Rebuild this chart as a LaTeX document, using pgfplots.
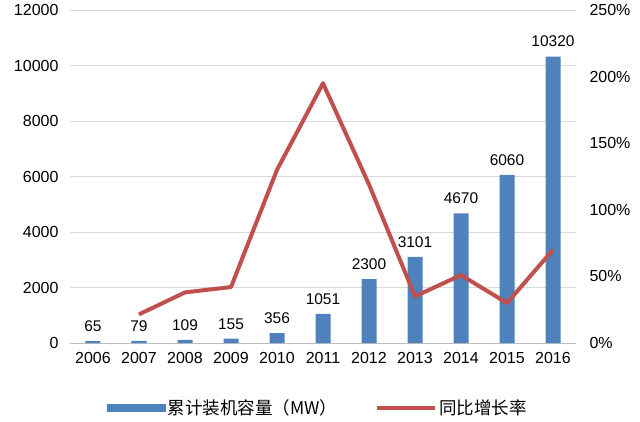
\documentclass[border=0pt]{standalone}
\usepackage{pgfplots}
\pgfplotsset{compat=1.18}
\usepackage{fontspec}
\setmainfont{Liberation Sans}
\newfontfamily\cjk{Noto Sans CJK SC}
\definecolor{barblue}{RGB}{79,129,189}
\definecolor{linered}{RGB}{192,80,77}
\begin{document}
\begin{tikzpicture}[x=1pt,y=1pt]
\path[use as bounding box] (0,0) rectangle (640,421);
\pgfplotsset{
  base/.style={
    at={(70pt,78pt)}, anchor=south west,
    scale only axis, width=506pt, height=333pt,
    xmin=-0.5, xmax=10.5,
    major tick length=0pt,
    scaled y ticks=false,
    /pgf/number format/assume math mode=true,
    /pgf/number format/1000 sep={},
    tick label style={font=\fontsize{16}{16}\selectfont},
  }
}
\begin{axis}[base,
  ymin=0, ymax=12000, ytick={0,2000,...,12000},
  axis lines*=left,
  y axis line style={draw=none},
  x axis line style={draw=gray!50, line width=0.8pt},
  ymajorgrids, grid style={gray!30, line width=0.8pt},
  xtick={0,...,10},
  xticklabels={2006,2007,2008,2009,2010,2011,2012,2013,2014,2015,2016},
  yticklabel style={xshift=-8pt},
  xticklabel style={yshift=-6pt},
  ybar, bar width=15pt,
  nodes near coords,
  every node near coord/.append style={font=\fontsize{15.5}{15.5}\selectfont, yshift=6pt, text=black},
]
\addplot[fill=barblue, draw=none] coordinates {
(0,65) (1,79) (2,109) (3,155) (4,356) (5,1051) (6,2300) (7,3101) (8,4670) (9,6060) (10,10320)};
\end{axis}
\begin{axis}[base,
  ymin=0, ymax=250, ytick={0,50,...,250},
  axis y line*=right, axis x line=none,
  y axis line style={draw=none},
  yticklabel={\pgfmathprintnumber{\tick}\%},
  yticklabel style={xshift=10pt},
  legend columns=2,
  legend style={at={(0.49,-0.195)}, anchor=center, draw=none, fill=none,
    font=\cjk\fontsize{17.5}{17.5}\selectfont,
    /tikz/every even column/.append style={column sep=36pt}},
]
\addlegendimage{legend image code/.code={\fill[barblue] (0pt,-3.5pt) rectangle (58pt,3.5pt);}}
\addlegendentry{累计装机容量（MW）}
\addplot[linered, line width=4pt, line join=round,
  legend image code/.code={\draw[linered, line width=4pt] (0pt,0pt) -- (58pt,0pt);}]
  coordinates {(1,21.5) (2,38) (3,42) (4,130) (5,195) (6,119) (7,35) (8,51) (9,30) (10,70)};
\addlegendentry{同比增长率}
\end{axis}
\end{tikzpicture}
\end{document}
